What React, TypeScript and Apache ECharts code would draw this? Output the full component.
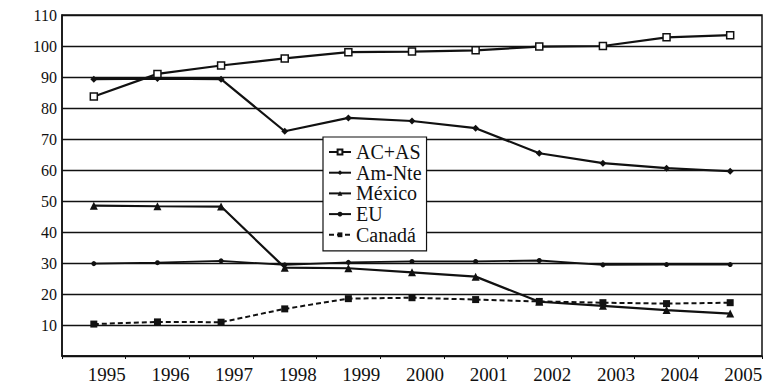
import React, { useEffect, useRef } from "react";
import * as echarts from "echarts";

const years = ["1995", "1996", "1997", "1998", "1999", "2000", "2001", "2002", "2003", "2004", "2005"];
const acas = [83.7, 91, 93.7, 96, 98, 98.2, 98.6, 99.8, 100, 102.8, 103.5];
const amNte = [89.3, 89.5, 89.3, 72.5, 76.8, 75.8, 73.5, 65.4, 62.2, 60.6, 59.6];
const mexico = [48.5, 48.3, 48.2, 28.5, 28.3, 27, 25.6, 17.5, 16.2, 14.8, 13.7];
const eu = [29.8, 30.1, 30.7, 29.4, 30.2, 30.5, 30.5, 30.8, 29.4, 29.5, 29.5];
const canada = [10.3, 11, 10.9, 15.2, 18.5, 18.8, 18.2, 17.6, 17.2, 16.9, 17.2];

const FONT = "Liberation Serif";
const INK = "#111";

export default function App() {
  const ref = useRef<HTMLDivElement>(null);
  useEffect(() => {
    document.body.style.margin = "0";
    const chart = echarts.init(ref.current!, null, { renderer: "svg" });
    chart.setOption({
      animation: false,
      backgroundColor: "#fff",
      textStyle: { fontFamily: FONT },
      grid: {
        left: 62,
        right: 14,
        top: 15,
        bottom: 30,
        show: true,
        borderColor: INK,
        borderWidth: 1.5,
      },
      legend: {
        orient: "vertical",
        left: 323,
        top: 137,
        backgroundColor: "#fff",
        borderColor: INK,
        borderWidth: 1.2,
        padding: [5, 5, 6, 5],
        itemWidth: 22,
        itemHeight: 6,
        itemGap: 0.7,
        textStyle: { fontFamily: FONT, fontSize: 20, lineHeight: 19, color: INK },
        data: ["AC+AS", "Am-Nte", "México", "EU", "Canadá"],
      },
      xAxis: {
        type: "category",
        data: years,
        boundaryGap: true,
        axisLine: { lineStyle: { color: INK, width: 1.5 } },
        axisTick: { show: true, length: 3, lineStyle: { color: INK } },
        axisLabel: {
          fontFamily: FONT,
          fontSize: 19,
          color: INK,
          margin: 9,
          padding: [0, 0, 0, 26],
        },
      },
      yAxis: {
        type: "value",
        min: 0,
        max: 110,
        interval: 10,
        axisLine: { show: true, lineStyle: { color: INK, width: 1.5 } },
        axisTick: { show: false },
        axisLabel: {
          fontFamily: FONT,
          fontSize: 16,
          color: INK,
          margin: 5,
          formatter: (v: number) => (v === 0 ? "" : String(v)),
        },
        splitLine: { show: true, lineStyle: { color: INK, width: 1.3 } },
      },
      series: [
        {
          name: "AC+AS",
          type: "line",
          data: acas,
          symbol: "rect",
          symbolSize: 7,
          itemStyle: { color: "#fff", borderColor: INK, borderWidth: 1.5 },
          lineStyle: { color: INK, width: 2.2 },
          z: 5,
        },
        {
          name: "Am-Nte",
          type: "line",
          data: amNte,
          symbol: "diamond",
          symbolSize: 7,
          itemStyle: { color: INK },
          lineStyle: { color: INK, width: 2.2 },
        },
        {
          name: "México",
          type: "line",
          data: mexico,
          symbol: "triangle",
          symbolSize: 8,
          itemStyle: { color: INK },
          lineStyle: { color: INK, width: 2.2 },
        },
        {
          name: "EU",
          type: "line",
          data: eu,
          symbol: "circle",
          symbolSize: 5,
          itemStyle: { color: INK },
          lineStyle: { color: INK, width: 1.8 },
        },
        {
          name: "Canadá",
          type: "line",
          data: canada,
          symbol: "rect",
          symbolSize: 7,
          itemStyle: { color: INK },
          lineStyle: { color: INK, width: 2, type: [5, 3] },
        },
      ],
    });
    return () => chart.dispose();
  }, []);
  return (
    <div
      ref={ref}
      style={{ position: "absolute", left: 0, top: 0, width: 776, height: 386, background: "#fff" }}
    />
  );
}
